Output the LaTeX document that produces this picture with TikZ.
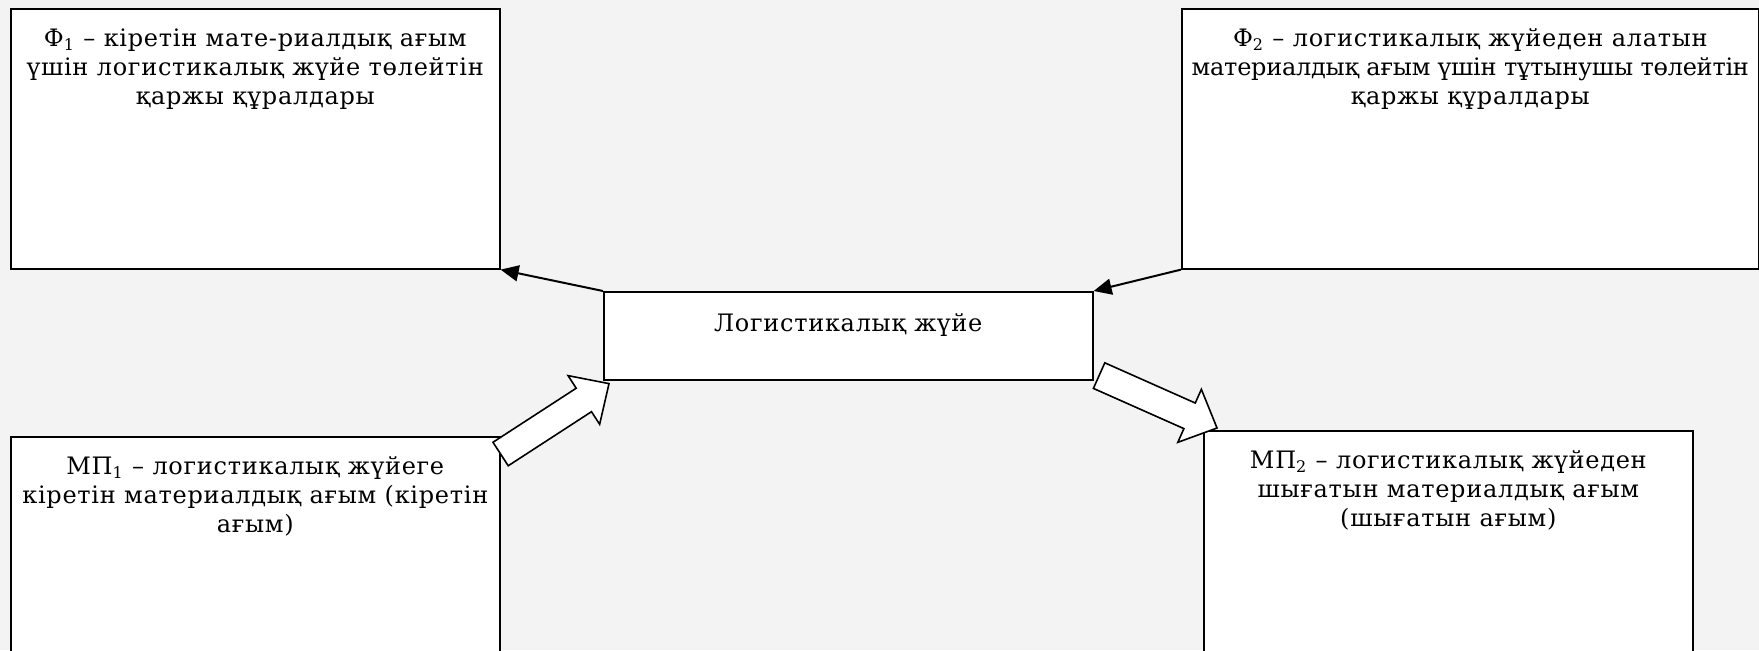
\documentclass[tikz,border=0pt]{standalone}
\usepackage{fontspec}
\setmainfont{DejaVu Serif}[LetterSpace=3]
\usetikzlibrary{arrows.meta,calc}
\definecolor{bgcol}{RGB}{243,243,243}
% box contents: width, height, first baseline, text
\newcommand{\boxtext}[4]{\begin{minipage}[t][#2][t]{#1}\centering
  \fontsize{12}{14.5}\selectfont\rule{0pt}{#3}#4\end{minipage}}
\begin{document}
\begin{tikzpicture}[x=0.5pt, y=-0.5pt,
    infobox/.style={draw, line width=0.8pt, fill=white, inner sep=0pt, anchor=north west},
    thinarrow/.style={line width=1pt, -{Triangle[length=9pt,width=8pt]}},
    blockarrow/.style={draw, line width=0.8pt, fill=white, line join=miter}]
    \fill[bgcol] (0,0) rectangle (1759,650);
    \useasboundingbox (0,0) rectangle (1759,650);
    \node[infobox] (fin1) at (10,8) {\boxtext{244.5pt}{130pt}{19pt}{Ф\textsubscript{1} – кіретін мате-риалдық ағым\\ үшін логистикалық жүйе төлейтін\\ қаржы құралдары}};
    \node[infobox] (fin2) at (1181,8) {\boxtext{288.5pt}{130pt}{19pt}{Ф\textsubscript{2} – логистикалық жүйеден алатын\\ \mbox{\addfontfeature{LetterSpace=-1}материалдық ағым үшін тұтынушы төлейтін}\\ қаржы құралдары}};
    \node[infobox] (sys) at (603,291) {\boxtext{244.5pt}{44pt}{20pt}{Логистикалық жүйе}};
    \node[infobox] (mp1) at (10,436) {\boxtext{244.5pt}{120pt}{19pt}{МП\textsubscript{1} – логистикалық жүйеге\\ кіретін материалдық ағым (кіретін\\ ағым)}};
    \node[infobox] (mp2) at (1203,430) {\boxtext{244.5pt}{120pt}{19pt}{МП\textsubscript{2} – логистикалық жүйеден\\ шығатын материалдық ағым\\ (шығатын ағым)}};
    \draw[thinarrow] (sys.north west) -- (fin1.south east);
    \draw[thinarrow] (fin2.south west) -- (sys.north east);
    % incoming flow
    \coordinate (int) at ($(mp1.north east)+(0,18)$);
    \coordinate (inh) at ($(sys.south west)+(6,3)$);
    \coordinate (inn) at ($(inh)!15pt!(int)$);
    \draw[blockarrow] ($(int)!7pt!90:(inh)$) -- ($(inn)!7pt!90:(inh)$) -- ($(inn)!14.5pt!90:(inh)$) -- (inh)
      -- ($(inn)!14.5pt!-90:(inh)$) -- ($(inn)!7pt!-90:(inh)$) -- ($(int)!7pt!-90:(inh)$) -- cycle;
    % outgoing flow
    \coordinate (outt) at ($(sys.south east)+(5.5,-5)$);
    \coordinate (outh) at ($(mp2.north west)+(14,-2)$);
    \coordinate (outn) at ($(outh)!15pt!(outt)$);
    \draw[blockarrow] ($(outt)!7pt!90:(outh)$) -- ($(outn)!7pt!90:(outh)$) -- ($(outn)!14.5pt!90:(outh)$) -- (outh)
      -- ($(outn)!14.5pt!-90:(outh)$) -- ($(outn)!7pt!-90:(outh)$) -- ($(outt)!7pt!-90:(outh)$) -- cycle;
\end{tikzpicture}
\end{document}
